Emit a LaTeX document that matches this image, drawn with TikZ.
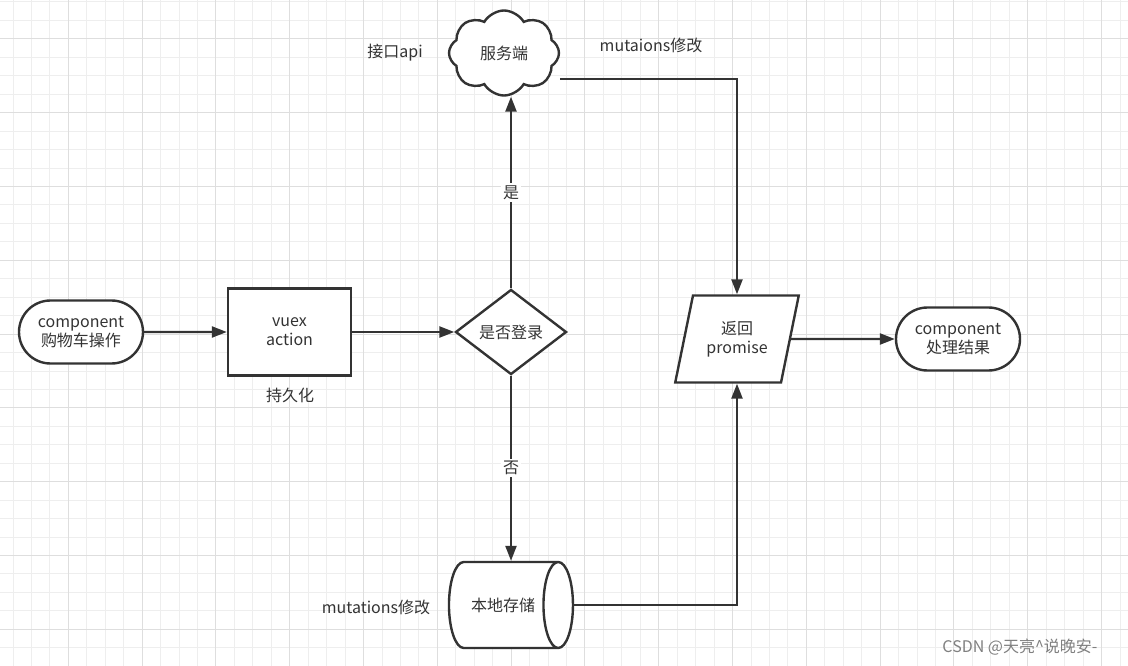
\documentclass[tikz,border=0pt]{standalone}
\usepackage{fontspec}
\setmainfont{Noto Sans CJK SC}
\usetikzlibrary{shapes.geometric,shapes.misc,shapes.symbols,arrows.meta}
\definecolor{inkgrey}{RGB}{51,51,51}
\definecolor{gridminor}{RGB}{238,238,238}
\definecolor{gridmajor}{RGB}{222,222,222}

\begin{document}
\begin{tikzpicture}[x=1pt,y=-1pt,
    every node/.style={text=inkgrey, font=\fontsize{16}{19}\selectfont, align=center},
    box/.style={draw=inkgrey, line width=2.4pt, fill=white, inner sep=0pt},
    flow/.style={draw=inkgrey, line width=2.4pt, -{Triangle[length=15pt,width=11pt]}},
    tag/.style={fill=white, inner sep=2pt}]
    \useasboundingbox (0,0) rectangle (1128,666);

    % grid paper
    \fill[white] (0,0) rectangle (1128,666);
    \foreach \i in {0,...,60}
        \draw[gridminor, line width=1pt] (13+18.45*\i,0) -- (13+18.45*\i,666);
    \foreach \i in {0,...,35}
        \draw[gridminor, line width=1pt] (0,2+18.45*\i) -- (1128,2+18.45*\i);
    \foreach \i in {3,7,...,59}
        \draw[gridmajor, line width=1pt] (13+18.45*\i,0) -- (13+18.45*\i,666);
    \foreach \i in {2,6,...,34}
        \draw[gridmajor, line width=1pt] (0,2+18.45*\i) -- (1128,2+18.45*\i);

    % shapes
    \node[box, rounded rectangle, minimum width=124pt, minimum height=63pt] (cart) at (81,332) {component\\购物车操作};
    \node[box, rectangle, minimum width=123pt, minimum height=87pt] (vuex) at (289.5,332) {vuex\\action};
    \node (keep) at (290,395) {持久化};
    \node[box, diamond, minimum width=111pt, minimum height=85pt] (login) at (511,332) {是否登录};
    \node[box, cloud, cloud puffs=8, cloud puff arc=120, aspect=1.3, minimum width=110pt, minimum height=85pt] (srv) at (504,53) {服务端};
    \node (api) at (395,53) {接口api};
    \node (mutA) at (651,45) {mutaions修改};
    \node[box, trapezium, trapezium left angle=71, trapezium right angle=109, trapezium stretches=true,
        minimum width=124pt, minimum height=87pt] (ret) at (737,339) {返回\\promise};
    \node[box, cylinder, shape aspect=2, minimum width=86pt, minimum height=124pt] (store) at (503,605) {本地存储};
    \node[box, rounded rectangle, minimum width=124pt, minimum height=63pt] (done) at (958,339) {component\\处理结果};
    \node (mutB) at (376,607) {mutations修改};
    \node[text=gray] (mark) at (1020,647) {CSDN @天亮\textasciicircum 说晚安-};

    % connectors
    \draw[flow] (cart) -- (vuex);
    \draw[flow] (vuex) -- (login);
    \draw[flow] (login.north) -- node[tag] {是} (login.north |- srv.south);
    \draw[flow] (login.south) -- node[tag] {否} (login.south |- store.north);
    \draw[flow] ([yshift=-26pt]srv.east) -| (ret);
    \draw[flow] (store) -| (ret);
    \draw[flow] (ret) -- (done);
\end{tikzpicture}
\end{document}
